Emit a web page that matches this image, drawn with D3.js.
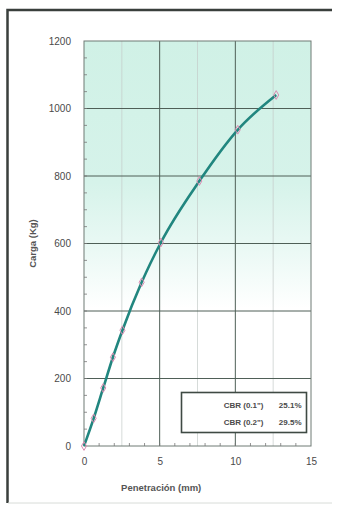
<!DOCTYPE html>
<html>
<head>
<meta charset="utf-8">
<script src="https://cdn.jsdelivr.net/npm/d3@7"></script>
<style>
  body { margin: 0; background: #fff; }
  text { font-family: "Liberation Sans", Arial, sans-serif; }
</style>
</head>
<body>
<div id="chart"></div>
<script>
// penetration (mm) and load (kg)
var penetration = [0, 0.64, 1.27, 1.91, 2.54, 3.81, 5.08, 7.62, 10.16, 12.7];
var carga = [0, 82, 172, 263, 343, 485, 603, 785, 937, 1040];
var xTicks = [0, 5, 10, 15];
var yTicks = [0, 200, 400, 600, 800, 1000, 1200];
var cbrLabels = ['CBR (0.1")', 'CBR (0.2")'];
var cbrValues = ["25.1%", "29.5%"];

var width = 337, height = 506;
var margin = {top: 41, right: 26, bottom: 60, left: 84};
var w = width - margin.left - margin.right;
var h = height - margin.top - margin.bottom;

var svg = d3.select("#chart").append("svg")
    .attr("width", width)
    .attr("height", height);

// outer frame
svg.append("path")
    .attr("d", "M7.5,503 L7.5,10 L332,10")
    .attr("fill", "none")
    .attr("stroke", "#3a3f3c")
    .attr("stroke-width", 2.5);
svg.append("line")
    .attr("x1", 8).attr("x2", 332).attr("y1", 503).attr("y2", 503)
    .attr("stroke", "#d8dcd8").attr("stroke-width", 1);

var defs = svg.append("defs");
var grad = defs.append("linearGradient")
    .attr("id", "bg").attr("x1", 0).attr("x2", 0).attr("y1", 0).attr("y2", 1);
grad.append("stop").attr("offset", "0%").attr("stop-color", "#d0f1e6");
grad.append("stop").attr("offset", "35%").attr("stop-color", "#d6f3ea");
grad.append("stop").attr("offset", "52%").attr("stop-color", "#ebf9f5");
grad.append("stop").attr("offset", "66%").attr("stop-color", "#ffffff");
grad.append("stop").attr("offset", "100%").attr("stop-color", "#ffffff");

var g = svg.append("g")
    .attr("transform", "translate(" + margin.left + "," + margin.top + ")");

var x = d3.scaleLinear().domain([0, 15]).range([0, w]);
var y = d3.scaleLinear().domain([0, 1200]).range([h, 0]);

g.append("rect")
    .attr("width", w).attr("height", h)
    .attr("fill", "url(#bg)");

// minor grid
g.selectAll(".minor-x")
    .data([2.5, 7.5, 12.5])
    .enter().append("line")
    .attr("x1", d => x(d)).attr("x2", d => x(d))
    .attr("y1", 0).attr("y2", h)
    .attr("stroke", "#c4ccc8").attr("stroke-width", 0.7);

// major grid
g.selectAll(".grid-x")
    .data(xTicks.slice(1, -1))
    .enter().append("line")
    .attr("x1", d => x(d)).attr("x2", d => x(d))
    .attr("y1", 0).attr("y2", h)
    .attr("stroke", "#4f5f57").attr("stroke-width", 1);

g.selectAll(".grid-y")
    .data(yTicks.slice(1, -1))
    .enter().append("line")
    .attr("x1", 0).attr("x2", w)
    .attr("y1", d => y(d)).attr("y2", d => y(d))
    .attr("stroke", "#4f5f57").attr("stroke-width", 1);

g.append("rect")
    .attr("width", w).attr("height", h)
    .attr("fill", "none")
    .attr("stroke", "#6f7a75").attr("stroke-width", 1);

// minor ticks along the axes
g.selectAll(".tick-x")
    .data(d3.range(1, 15))
    .enter().append("line")
    .attr("x1", d => x(d)).attr("x2", d => x(d))
    .attr("y1", h).attr("y2", h - 3)
    .attr("stroke", "#777").attr("stroke-width", 0.8);

g.selectAll(".tick-y")
    .data(d3.range(50, 1200, 50))
    .enter().append("line")
    .attr("x1", 0).attr("x2", 3)
    .attr("y1", d => y(d)).attr("y2", d => y(d))
    .attr("stroke", "#777").attr("stroke-width", 0.8);

// axes
var xAxis = g.append("g")
    .attr("transform", "translate(0," + h + ")")
    .call(d3.axisBottom(x).tickValues(xTicks).tickFormat(d3.format("d")).tickSize(0).tickPadding(12));
var yAxis = g.append("g")
    .call(d3.axisLeft(y).tickValues(yTicks).tickFormat(d3.format("d")).tickSize(0).tickPadding(13));
[xAxis, yAxis].forEach(function(a){
    a.select(".domain").remove();
    a.selectAll("text")
        .style("font-size", "10px")
        .style("fill", "#4a4a4a")
        .style("font-family", "'Liberation Sans', Arial, sans-serif");
});

g.append("text")
    .text("Penetración (mm)")
    .attr("x", x(5.1)).attr("y", h + 45)
    .attr("text-anchor", "middle")
    .style("font-size", "9.5px").style("font-weight", "bold")
    .style("fill", "#555");

g.append("text")
    .text("Carga (Kg)")
    .attr("transform", "translate(-48," + y(600) + ") rotate(-90)")
    .attr("text-anchor", "middle")
    .style("font-size", "9.5px").style("font-weight", "bold")
    .style("fill", "#555");

// curve
var points = penetration.map((p, i) => [p, carga[i]]);
var line = d3.line()
    .x(d => x(d[0]))
    .y(d => y(d[1]))
    .curve(d3.curveMonotoneX);

g.append("path")
    .datum(points)
    .attr("d", line)
    .attr("fill", "none")
    .attr("stroke", "#21867f")
    .attr("stroke-width", 2.6);

g.selectAll(".pt")
    .data(points)
    .enter().append("path")
    .attr("d", d3.symbol().type(d3.symbolDiamond).size(22))
    .attr("transform", d => "translate(" + x(d[0]) + "," + y(d[1]) + ")")
    .attr("fill", "none")
    .attr("stroke", "#d98ab0")
    .attr("stroke-width", 1);

// CBR box
var box = g.append("g").attr("transform", "translate(" + (181.5 - margin.left) + "," + (392.5 - margin.top) + ")");
box.append("rect")
    .attr("width", 125).attr("height", 40)
    .attr("fill", "#fff")
    .attr("stroke", "#3f4a44").attr("stroke-width", 1.6);
cbrLabels.forEach(function(lbl, i){
    box.append("text")
        .text(lbl)
        .attr("x", 82).attr("y", 15 + i * 17)
        .attr("text-anchor", "end")
        .style("font-size", "8px").style("font-weight", "bold")
        .style("fill", "#4a4a4a");
    box.append("text")
        .text(cbrValues[i])
        .attr("x", 120).attr("y", 15 + i * 17)
        .attr("text-anchor", "end")
        .style("font-size", "8px").style("font-weight", "bold")
        .style("fill", "#4a4a4a");
});
</script>
</body>
</html>
